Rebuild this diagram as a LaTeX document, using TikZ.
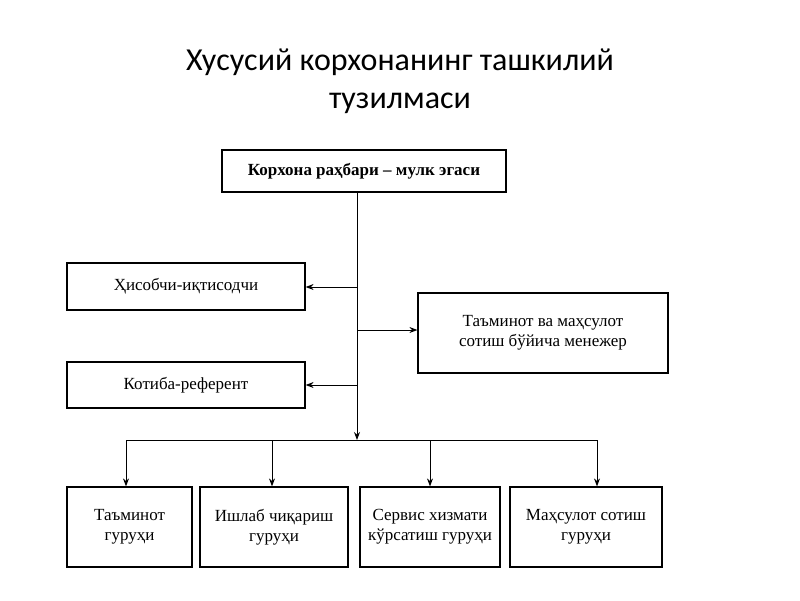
\documentclass[tikz,border=0pt]{standalone}
\usepackage{fontspec}
\setmainfont{Liberation Serif}
\newfontfamily\titlefont{Carlito}
\usetikzlibrary{positioning}
\usetikzlibrary{arrows.meta}

\begin{document}
\begin{tikzpicture}[
      x=1pt, y=-1pt,
      >={Stealth[length=8pt,width=6pt]},
      unit/.style = {
        draw = black, line width = 1.2pt,
        align = center, inner sep = 0pt,
        font = \fontsize{17}{20}\selectfont
      },
      link/.style = { black, line width = 1pt },
    ]
    \useasboundingbox (0,0) rectangle (800,600);

    \node[font=\titlefont\fontsize{32}{38}\selectfont, align=center] (T) at (400,81)
      {Хусусий корхонанинг ташкилий\\тузилмаси};

    \node[unit, minimum width=284, minimum height=42, font=\bfseries\fontsize{17}{20}\selectfont] (H) at (364,171) {Корхона раҳбари -- мулк эгаси};
    \node[unit, minimum width=238, minimum height=47] (A1) at (186,286.5) {Ҳисобчи-иқтисодчи};
    \node[unit, minimum width=250, minimum height=80] (M) at (543,333) {Таъминот ва маҳсулот\\сотиш бўйича менежер};
    \node[unit, minimum width=238, minimum height=46] (A2) at (186,385) {Котиба-референт};

    \node[unit, minimum width=125, minimum height=80] (G1) at (129.5,527) {Таъминот\\гуруҳи};
    \node[unit, minimum width=148, minimum height=80] (G2) at (274,527) {Ишлаб чиқариш\\гуруҳи};
    \node[unit, minimum width=140, minimum height=80] (G3) at (430,527) {Сервис хизмати\\кўрсатиш гуруҳи};
    \node[unit, minimum width=152, minimum height=80] (G4) at (586,527) {Маҳсулот сотиш\\гуруҳи};

    % trunk line
    \coordinate (J1) at (357,287);
    \coordinate (J2) at (357,330);
    \coordinate (J3) at (357,385);
    \coordinate (J4) at (357,440);
    \draw[link, ->] (H.south -| J1) -- (J4);
    \draw[link, ->] (J1) -- (A1.east |- J1);
    \draw[link, ->] (J2) -- (M.west |- J2);
    \draw[link, ->] (J3) -- (A2.east |- J3);

    % bus to groups
    \coordinate (B1) at (126,440);
    \coordinate (B4) at (597,440);
    \draw[link] (B1) -- (B4);
    \foreach \g/\x in {G1/126, G2/272, G3/430, G4/597} {
      \coordinate (D) at (\x,440);
      \draw[link, ->] (D) -- (\g.north -| D);
    }
  \end{tikzpicture}
\end{document}
